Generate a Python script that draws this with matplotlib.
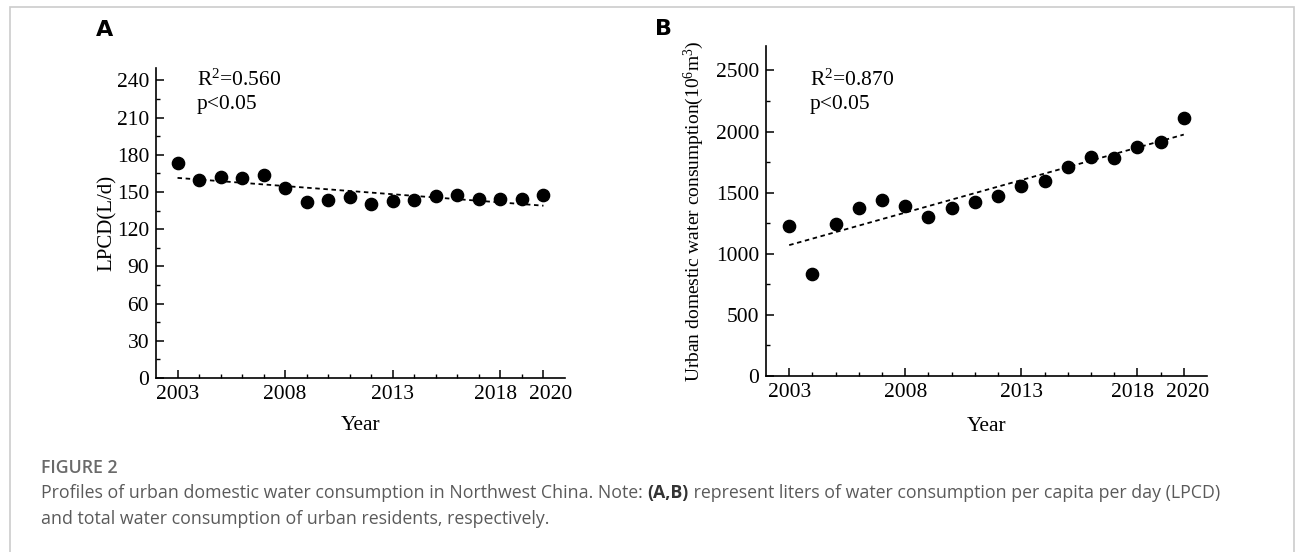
import numpy as np
import matplotlib
matplotlib.use('Agg')
import matplotlib.pyplot as plt
from matplotlib.ticker import MultipleLocator, FixedLocator
from matplotlib.patches import Rectangle
from matplotlib.transforms import ScaledTranslation

years = np.arange(2003, 2021)
lpcd = [173, 159.5, 162, 161, 163.5, 153, 142, 143.5, 146, 140,
        142.5, 143.5, 146.5, 147.5, 144, 144, 144, 147.5]
total = [1224, 836, 1243, 1372, 1443, 1388, 1298, 1374, 1421, 1475,
         1557, 1593, 1710, 1790, 1784, 1877, 1918, 2112]
major_years = [2003, 2008, 2013, 2018, 2020]

SERIF = 'Liberation Serif'
W, H = 1295, 552

fig = plt.figure(figsize=(W / 100, H / 100), dpi=100)

# light grey frame round the figure
fig.patches.append(Rectangle((10 / W, -0.1), 1284 / W, 1.1 - 7 / H,
                             transform=fig.transFigure, fill=False,
                             edgecolor='#cccccc', linewidth=1.2))


def panel(rect, y, ylim, ymaj, ymin, ylabel, ylabel_size, ylabel_x, r2, r2_x,
          letter, letter_xy, shifts, xlabel_pad):
    ax = fig.add_axes(rect)
    ax.scatter(years, y, s=78, color='black', zorder=3)
    k, b = np.polyfit(years, y, 1)
    ax.plot(years, k * years + b, color='black', linestyle=(0, (2.5, 2)), lw=1.3)
    ax.set_xlim(2002, 2021)
    ax.set_ylim(*ylim)
    ax.xaxis.set_major_locator(FixedLocator(major_years))
    ax.xaxis.set_minor_locator(FixedLocator(list(years)))
    ax.yaxis.set_major_locator(MultipleLocator(ymaj))
    ax.yaxis.set_minor_locator(MultipleLocator(ymin))
    for s in ['top', 'right']:
        ax.spines[s].set_visible(False)
    for s in ['left', 'bottom']:
        ax.spines[s].set_linewidth(1.2)
    ax.tick_params(which='major', direction='in', length=6, width=1.1,
                   labelsize=15.5, pad=5)
    ax.tick_params(which='minor', direction='in', length=3, width=1.0)
    for t in ax.get_xticklabels() + ax.get_yticklabels():
        t.set_fontfamily(SERIF)
    # 2018 / 2020 labels pushed apart so they don't touch
    xt = ax.get_xticklabels()
    xt[3].set_transform(xt[3].get_transform() + ScaledTranslation(shifts[0] / 100, 0, fig.dpi_scale_trans))
    xt[4].set_transform(xt[4].get_transform() + ScaledTranslation(shifts[1] / 100, 0, fig.dpi_scale_trans))
    ax.set_xlabel('Year', fontsize=15.5, fontfamily=SERIF, labelpad=xlabel_pad)
    ax.set_ylabel(ylabel, fontsize=ylabel_size, fontfamily=SERIF)
    ax.yaxis.set_label_coords(ylabel_x, 0.5)
    tx = rect[0] + r2_x * rect[2]
    fig.text(tx, 1 - 80 / H, '$\\mathregular{R^2}$=' + r2,
             fontsize=15.5, fontfamily=SERIF, va='center')
    fig.text(tx, 1 - 104 / H, 'p<0.05',
             fontsize=15.5, fontfamily=SERIF, va='center')
    fig.text(letter_xy[0], letter_xy[1], letter, fontsize=16, fontweight='bold',
             fontfamily='DejaVu Sans', va='center', ha='left')
    return ax


ax_a = panel([156 / W, 1 - 378 / H, 409 / W, 310 / H], lpcd, (0, 250), 30, 15,
             'LPCD(L/d)', 15, -0.095, '0.560', 0.1, 'A', (96 / W, 1 - 30 / H),
             (-5, 7), 9)
ax_b = panel([766 / W, 1 - 376 / H, 441 / W, 330 / H], total, (0, 2700), 500, 250,
             'Urban domestic water consumption($\\mathregular{10^6m^3}$)', 14, -0.135,
             '0.870', 0.099, 'B', (655 / W, 1 - 29 / H), (-5, 4), 11)

# caption
grey = '#5a5a5a'
CAP = 'Open Sans'
FS = 12.75
fig.text(41 / W, 1 - 468 / H, 'FIGURE 2', fontsize=FS, fontfamily=CAP,
         color='#6a6a6a', fontweight='semibold', va='center')
renderer = fig.canvas.get_renderer()
t1 = fig.text(41 / W, 1 - 493 / H,
              'Profiles of urban domestic water consumption in Northwest China. Note: ',
              fontsize=FS, fontfamily=CAP, color=grey, va='center')
x = t1.get_window_extent(renderer).x1
t2 = fig.text(x / W, 1 - 493 / H, '(A,B)', fontsize=FS, fontfamily=CAP,
              color='#333333', fontweight='bold', va='center')
x = t2.get_window_extent(renderer).x1
fig.text(x / W, 1 - 493 / H,
         ' represent liters of water consumption per capita per day (LPCD)',
         fontsize=FS, fontfamily=CAP, color=grey, va='center')
fig.text(41 / W, 1 - 519 / H,
         'and total water consumption of urban residents, respectively.',
         fontsize=FS, fontfamily=CAP, color=grey, va='center')

fig.savefig('out.png', dpi=100)
